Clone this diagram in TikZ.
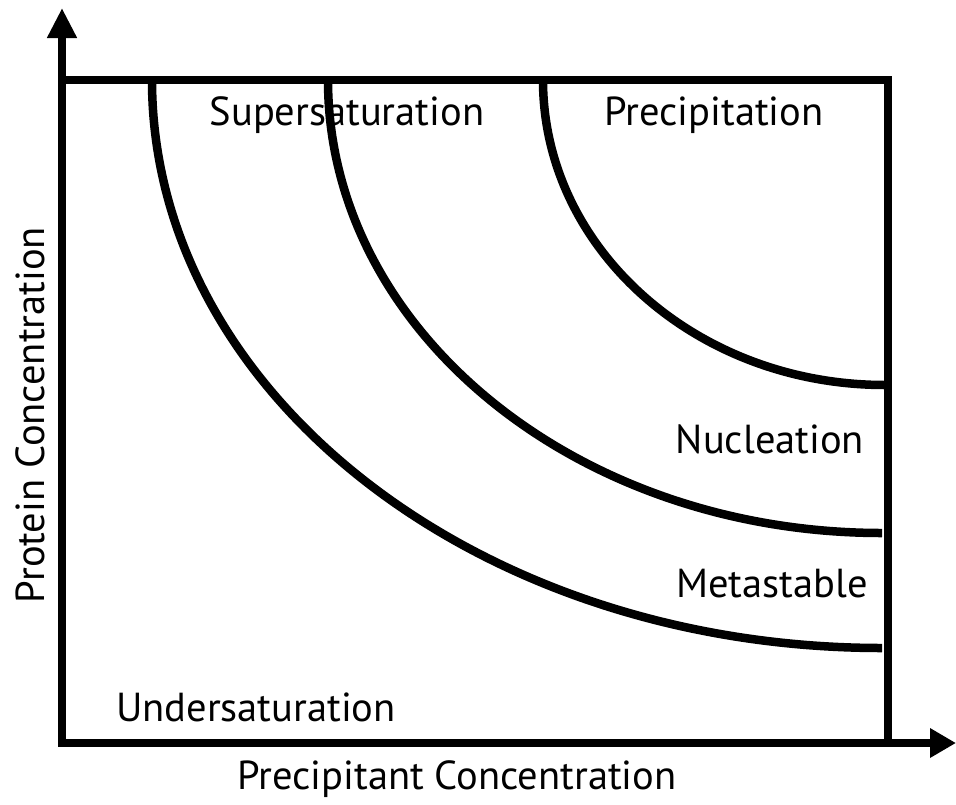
\documentclass[tikz,border=0pt]{standalone}
\usepackage{fontspec}
\setmainfont{PT Sans}
\usetikzlibrary{arrows.meta}
\begin{document}
\begin{tikzpicture}[x=1pt,y=-1pt,
  thick line/.style={line width=8pt},
  curveline/.style={line width=8.5pt},
  lbl/.style={inner sep=0pt,font=\fontsize{40.5}{42}\selectfont}]
\useasboundingbox (0,0) rectangle (956,804);
% frame
\draw[thick line] (62,80) -- (888,80) -- (888,743);
% axes
\draw[thick line,-{Triangle[width=28pt,length=30pt]}] (62,743) -- (62,8);
\draw[thick line,-{Triangle[width=28pt,length=26pt]}] (58,743) -- (956,743);
% curves
\draw[curveline] (543,80) arc[start angle=180,end angle=270,x radius=342,y radius=-305];
\draw[curveline] (328,80) arc[start angle=180,end angle=270,x radius=554,y radius=-453];
\draw[curveline] (152,80) arc[start angle=180,end angle=270,x radius=730,y radius=-568];
% labels
\node[lbl] (super) at (347,115) {Supersaturation};
\node[lbl] (precip) at (714,115) {Precipitation};
\node[lbl] (nucl) at (770,439) {Nucleation};
\node[lbl] (meta) at (772,584) {Metastable};
\node[lbl] (under) at (256,707) {Undersaturation};
\node[lbl,rotate=90] (ylab) at (30,415) {Protein Concentration};
\node[lbl] (xlab) at (457,779) {Precipitant Concentration};
\end{tikzpicture}
\end{document}
